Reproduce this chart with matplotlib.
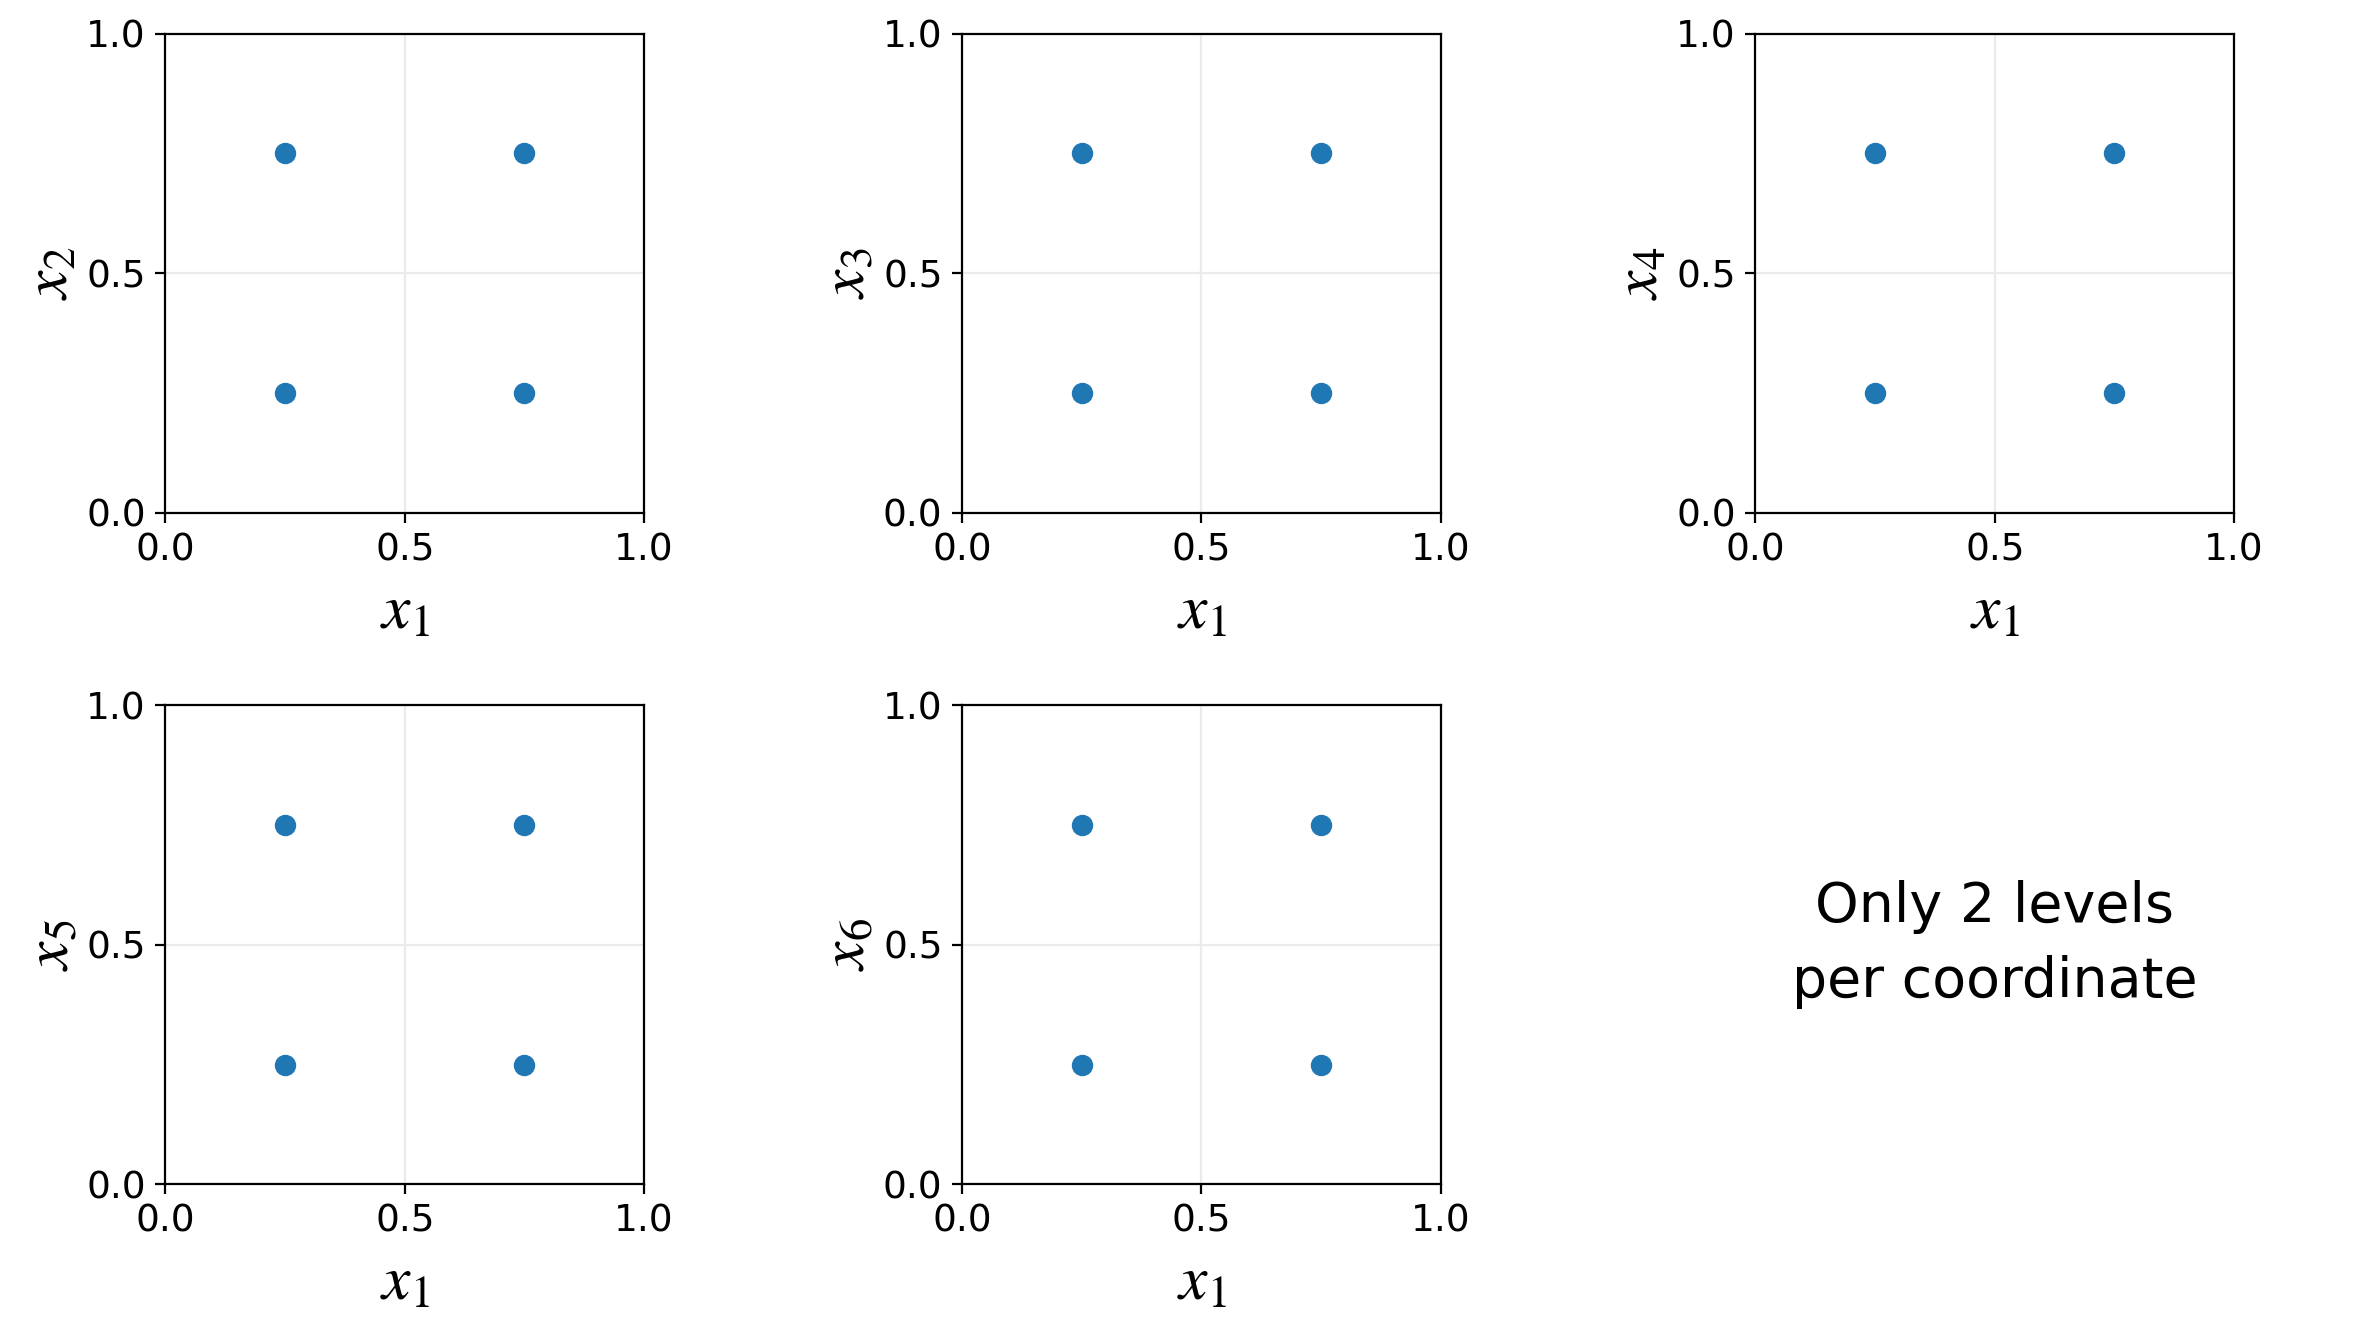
import matplotlib
matplotlib.use("Agg")
import matplotlib.pyplot as plt

# two-level design, projected onto (x1, xk)
levels = [0.25, 0.75]
x1_vals = [0.25, 0.75, 0.25, 0.75]
xk_vals = [0.25, 0.25, 0.75, 0.75]
ylabels = [r"$x_2$", r"$x_3$", r"$x_4$", r"$x_5$", r"$x_6$"]
ticks = [0.0, 0.5, 1.0]
note = "Only 2 levels\nper coordinate"

plt.rcParams['mathtext.fontset'] = 'stix'

fig = plt.figure(figsize=(11.88, 6.635), dpi=200)
lefts = [0.0696, 0.4049, 0.7388]
bottoms = [0.6137, 0.1074]
w, h = 0.2015, 0.361

axes = []
for r in range(2):
    for c in range(3):
        axes.append(fig.add_axes([lefts[c], bottoms[r], w, h]))

for i, lab in enumerate(ylabels):
    ax = axes[i]
    ax.scatter(x1_vals, xk_vals, s=45, color='#1f77b4', zorder=3)
    ax.set_xlim(0, 1)
    ax.set_ylim(0, 1)
    ax.set_xticks(ticks)
    ax.set_yticks(ticks)
    ax.tick_params(labelsize=13.5)
    ax.grid(True, color='#ebebeb', linewidth=0.8)
    ax.set_axisbelow(True)
    ax.set_xlabel(r"$x_1$", fontsize=23)
    ax.set_ylabel(lab, fontsize=23, labelpad=2)

ax = axes[5]
ax.axis('off')
ax.text(0.5, 0.5, note, ha='center', va='center', fontsize=20,
        transform=ax.transAxes, linespacing=1.5)

fig.savefig("out.png", dpi=200)
